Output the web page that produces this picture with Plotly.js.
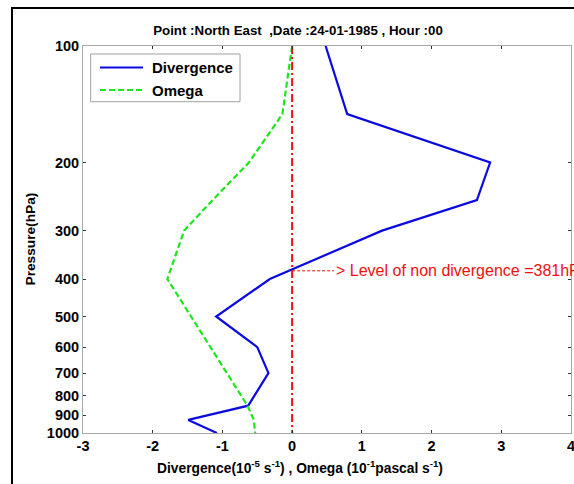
<!DOCTYPE html>
<html>
<head>
<meta charset="utf-8">
<script src="https://cdn.plot.ly/plotly-3.0.1.min.js"></script>
<style>
html,body{margin:0;padding:0;background:#fff;}
#chart{width:574px;height:484px;}
</style>
</head>
<body>
<div id="chart"></div>
<script>
// Data (pressure levels in hPa)
const levels = [100, 150, 200, 250, 300, 400, 500, 600, 700, 850, 925, 1000];
const divergence = [0.48, 0.79, 2.84, 2.65, 1.29, -0.32, -1.09, -0.50, -0.34, -0.63, -1.49, -1.08];
const omega = [0.0, -0.14, -0.62, -1.14, -1.55, -1.79, -1.45, -1.17, -0.93, -0.64, -0.55, -0.53];
const seriesNames = ['Divergence', 'Omega'];
const zeroLineX = [0, 0];
const zeroLineP = [100, 1000];
const nonDivLevel = 381;
const arrowX = [0, 0.6];
const xTicks = [-3, -2, -1, 0, 1, 2, 3, 4];
const yTicks = [100, 200, 300, 400, 500, 600, 700, 800, 900, 1000];

const FONT = 'Liberation Sans, Arial, sans-serif';
const BLUE = '#0a0ae0', GREEN = '#1ee61e', RED = '#f01010';

// helpers: pixel -> paper coordinates (plot area 83..571 x 46..433)
const px = v => (v - 83) / 488;
const py = v => (433 - v) / 387;

const traces = [
  {x: divergence, y: levels, mode: 'lines', name: seriesNames[0],
   line: {color: BLUE, width: 2.2}},
  {x: omega, y: levels, mode: 'lines', name: seriesNames[1],
   line: {color: GREEN, width: 2.2, dash: '6px,3px'}},
  {x: zeroLineX, y: zeroLineP, mode: 'lines',
   line: {color: RED, width: 2, dash: '8px,3px,2px,3px'}},
  {x: arrowX, y: [nonDivLevel, nonDivLevel], mode: 'lines',
   line: {color: RED, width: 1, dash: '3px,2px'}}
];

const layout = {
  width: 574, height: 484,
  margin: {l: 83, r: 3, t: 46, b: 51},
  paper_bgcolor: '#fff', plot_bgcolor: '#fff',
  font: {family: FONT, size: 14, color: '#000'},
  showlegend: false,
  title: {text: 'Point :North East  ,Date :24-01-1985 , Hour :00',
          font: {family: FONT, size: 13.3, weight: 'bold', color: '#000'},
          xref: 'container', x: 298/574, xanchor: 'center',
          yref: 'container', y: 1 - 30/484, yanchor: 'middle'},
  xaxis: {range: [-3, 4], tickvals: xTicks, ticktext: xTicks.map(String),
          ticklabeloverflow: 'allow',
          showgrid: false, zeroline: false, showline: true, linecolor: '#a8a8a8', linewidth: 1,
          mirror: 'ticks', ticks: 'inside', ticklen: 3, tickcolor: '#333',
          tickfont: {family: FONT, size: 14.5, weight: 'bold'}},
  yaxis: {type: 'log', range: [3, 2], tickvals: yTicks, ticktext: yTicks.map(String),
          ticklabeloverflow: 'allow',
          showgrid: false, zeroline: false, showline: true, linecolor: '#a8a8a8', linewidth: 1,
          mirror: 'ticks', ticks: 'inside', ticklen: 3, tickcolor: '#333',
          tickfont: {family: FONT, size: 14.5, weight: 'bold'}},
  shapes: [
    // legend box
    {type: 'rect', xref: 'paper', yref: 'paper',
     x0: px(90.7), x1: px(240), y0: py(101.7), y1: py(54),
     line: {color: '#a0a0a0', width: 1}, fillcolor: 'rgba(255,255,255,1)'},
    {type: 'line', xref: 'paper', yref: 'paper', x0: px(100), x1: px(143), y0: py(67.5), y1: py(67.5),
     line: {color: BLUE, width: 2.2}},
    {type: 'line', xref: 'paper', yref: 'paper', x0: px(100), x1: px(143), y0: py(90), y1: py(90),
     line: {color: GREEN, width: 2.2, dash: '6px,3px'}},
    // outer figure border
    {type: 'rect', xref: 'paper', yref: 'paper',
     x0: px(12), x1: 1.3, y0: -0.4, y1: py(8),
     line: {color: '#000', width: 2}, fillcolor: 'rgba(0,0,0,0)'}
  ],
  annotations: [
    {xref: 'paper', yref: 'paper', x: px(150), y: py(67.5), xanchor: 'left', yanchor: 'middle',
     showarrow: false, text: seriesNames[0], font: {family: FONT, size: 15, weight: 'bold'}},
    {xref: 'paper', yref: 'paper', x: px(150), y: py(90), xanchor: 'left', yanchor: 'middle',
     showarrow: false, text: seriesNames[1], font: {family: FONT, size: 15, weight: 'bold'}},
    {xref: 'x', yref: 'y', x: arrowX[1], y: Math.log10(nonDivLevel),
     xanchor: 'left', yanchor: 'middle', showarrow: false,
     text: '> Level of non divergence =' + nonDivLevel + 'hPa',
     font: {family: FONT, size: 16, color: RED}},
    {xref: 'paper', yref: 'paper', x: px(300), y: py(467),
     xanchor: 'center', yanchor: 'middle', showarrow: false,
     text: 'Divergence(10<sup>-5</sup> s<sup>-1</sup>) , Omega (10<sup>-1</sup>pascal s<sup>-1</sup>)',
     font: {family: FONT, size: 13.8, weight: 'bold'}},
    {xref: 'paper', yref: 'paper', x: px(30), y: 0.5,
     xanchor: 'center', yanchor: 'middle', showarrow: false, textangle: -90,
     text: 'Pressure(hPa)',
     font: {family: FONT, size: 13.7, weight: 'bold'}}
  ]
};

Plotly.newPlot('chart', traces, layout, {staticPlot: true, displayModeBar: false});
</script>
</body>
</html>
